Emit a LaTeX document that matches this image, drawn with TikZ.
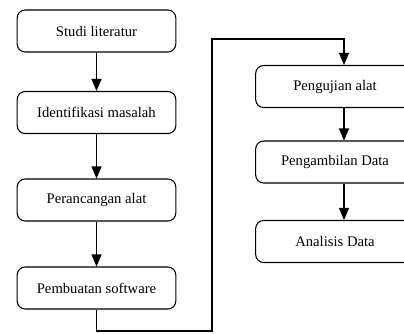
\documentclass[tikz,border=0pt]{standalone}
\usepackage{fontspec}
\setmainfont{Liberation Serif}
\usetikzlibrary{positioning}
\usetikzlibrary{arrows.meta}

\tikzset{
  stepbox/.style={draw, rounded corners=6pt, line width=0.8pt, minimum width=119pt,
    minimum height=31.5pt, inner sep=2pt, font=\fontsize{11}{13}\selectfont},
  flow/.style={line width=0.8pt, -{Triangle[width=7.5pt,length=9pt]}}
}

\begin{document}
\begin{tikzpicture}[x=0.75pt,y=-0.75pt]

%---------------------------------------
% Frame
%---------------------------------------
\useasboundingbox (0,0) rectangle (404,333);
\clip (0,0) rectangle (404,333);

\def\xL{96.5}
\def\xR{335}

%====================================================
% LEFT COLUMN
%====================================================
\node[stepbox] (studi) at (\xL,31)    {Studi literatur};
\node[stepbox] (ident) at (\xL,112.5) {Identifikasi masalah};
\node[stepbox] (ranc)  at (\xL,200)   {Perancangan alat};
\node[stepbox] (buat)  at (\xL,288)   {Pembuatan software};

\draw[flow] (studi) -- (ident);
\draw[flow] (ident) -- (ranc);
\draw[flow] (ranc) -- (buat);

%====================================================
% RIGHT COLUMN
%====================================================
\node[stepbox] (uji)    at (\xR,86.5)  {Pengujian alat};
\node[stepbox] (ambil)  at (\xR,162)   {Pengambilan Data};
\node[stepbox] (anal)   at (\xR,241.5) {Analisis Data};

% arrow axis of the right column
\coordinate (ax) at (344,0);

\draw[flow] (uji.south -| ax) -- (ambil.north -| ax);
\draw[flow] (ambil.south -| ax) -- (anal.north -| ax);

% ---- link between the columns ----
\coordinate (midlow) at (212,331);
\coordinate (midtop) at (212,39);
\draw[flow] (buat.south) |- (midlow) -- (midtop) -| (uji.north -| ax);

\end{tikzpicture}
\end{document}
